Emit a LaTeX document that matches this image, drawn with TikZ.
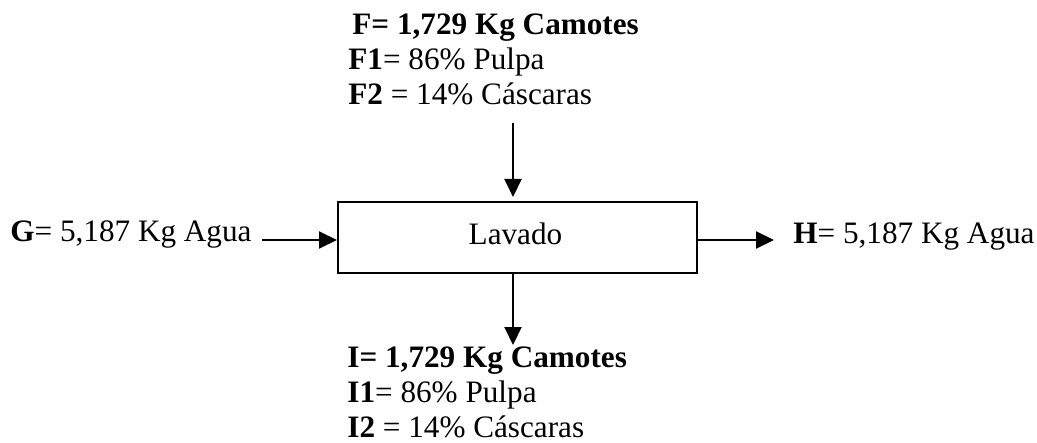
\documentclass[tikz,border=0pt]{standalone}
\usepackage{fontspec}
\setmainfont{Liberation Serif}
\usetikzlibrary{arrows.meta}
\begin{document}
\begin{tikzpicture}[x=0.5pt,y=-0.5pt,
  flow/.style={line width=1pt,-{Triangle[length=9pt,width=8.5pt]}},
  procbox/.style={draw,line width=1pt,minimum width=179.5pt,minimum height=35.5pt,inner sep=0pt},
  lbl/.style={anchor=base west,inner sep=0pt,font=\fontsize{15.6}{18}\selectfont}]
\useasboundingbox (0,0) rectangle (1037,443);

% process block
\node[procbox] (lavado) at (517.5,237.5) {};
\node[lbl,anchor=base] (lavtxt) at (515.5,244) {Lavado};

% feed stream (top)
\node[lbl] (f)  at (352,35)  {\textbf{F= 1,729 Kg Camotes}};
\node[lbl] (f1) at (348,70)  {\textbf{F1}= 86\% Pulpa};
\node[lbl] (f2) at (348,105) {\textbf{F2} = 14\% Cáscaras};

% water in / out
\node[lbl] (g) at (10,242)  {\textbf{G}= 5,187 Kg Agua};
\node[lbl] (h) at (793,243) {\textbf{H}= 5,187 Kg Agua};

% washed product (bottom)
\node[lbl] (i)  at (347,367) {\textbf{I= 1,729 Kg Camotes}};
\node[lbl] (i1) at (347,402) {\textbf{I1}= 86\% Pulpa};
\node[lbl] (i2) at (347,437) {\textbf{I2} = 14\% Cáscaras};

% stream end points
\coordinate (ftop) at (513,123);
\coordinate (fend) at (513,197);
\coordinate (gstart) at (262,240);
\coordinate (hend) at (774,240);
\coordinate (iend) at (513,345);

\draw[flow] (ftop) -- (fend);
\draw[flow] (gstart) -- (gstart -| lavado.west);
\draw[flow] (hend -| lavado.east) -- (hend);
\draw[flow] (iend |- lavado.south) -- (iend);
\end{tikzpicture}
\end{document}
